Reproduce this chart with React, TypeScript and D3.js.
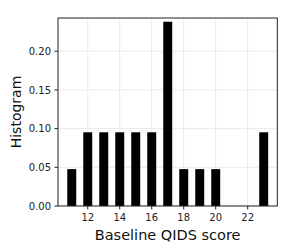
import React from "react";
import * as d3 from "d3";

const scores = [11, 12, 13, 14, 15, 16, 17, 18, 19, 20, 23];
const densities = [1 / 21, 2 / 21, 2 / 21, 2 / 21, 2 / 21, 2 / 21, 5 / 21, 1 / 21, 1 / 21, 1 / 21, 2 / 21];
const xTicks = [12, 14, 16, 18, 20, 22];
const yTicks = [0, 0.05, 0.1, 0.15, 0.2];

const W = 288, H = 252;
const L = 58, R = 277.3, T = 18, B = 206;

export default function App() {
  const x = d3.scaleLinear().domain([10.14, 23.85]).range([L, R]);
  const y = d3.scaleLinear().domain([0, 0.2429]).range([B, T]);
  const bw = x(11.28) - x(11);
  const font = "DejaVu Sans, sans-serif";
  return (
    <svg width={W} height={H} style={{ position: "absolute", left: 0, top: 0 }}>
      <rect width={W} height={H} fill="white" />
      {xTicks.map((t) => (
        <line key={"gx" + t} x1={x(t)} x2={x(t)} y1={T} y2={B} stroke="#ebebeb" strokeWidth={1} />
      ))}
      {yTicks.map((t) => (
        <line key={"gy" + t} x1={L} x2={R} y1={y(t)} y2={y(t)} stroke="#ebebeb" strokeWidth={1} />
      ))}
      {scores.map((s, i) => (
        <rect key={s} x={x(s) - bw} y={y(densities[i])} width={bw * 2} height={B - y(densities[i])} fill="black" />
      ))}
      <rect x={L} y={T} width={R - L} height={B - T} fill="none" stroke="#222" strokeWidth={1} />
      {xTicks.map((t) => (
        <g key={"tx" + t}>
          <line x1={x(t)} x2={x(t)} y1={B} y2={B + 3.5} stroke="#222" />
          <text x={x(t)} y={221} textAnchor="middle" fontSize={10} fontFamily={font} fill="#222">{t}</text>
        </g>
      ))}
      {yTicks.map((t) => (
        <g key={"ty" + t}>
          <line x1={L - 3.5} x2={L} y1={y(t)} y2={y(t)} stroke="#222" />
          <text x={L - 7} y={y(t)} dy="0.36em" textAnchor="end" fontSize={10} fontFamily={font} fill="#222">{t.toFixed(2)}</text>
        </g>
      ))}
      <text x={(L + R) / 2} y={240} textAnchor="middle" fontSize={14.5} fontFamily={font} fill="#111">Baseline QIDS score</text>
      <text transform={`translate(21,${(T + B) / 2}) rotate(-90)`} textAnchor="middle" fontSize={14} fontFamily={font} fill="#111">Histogram</text>
    </svg>
  );
}
